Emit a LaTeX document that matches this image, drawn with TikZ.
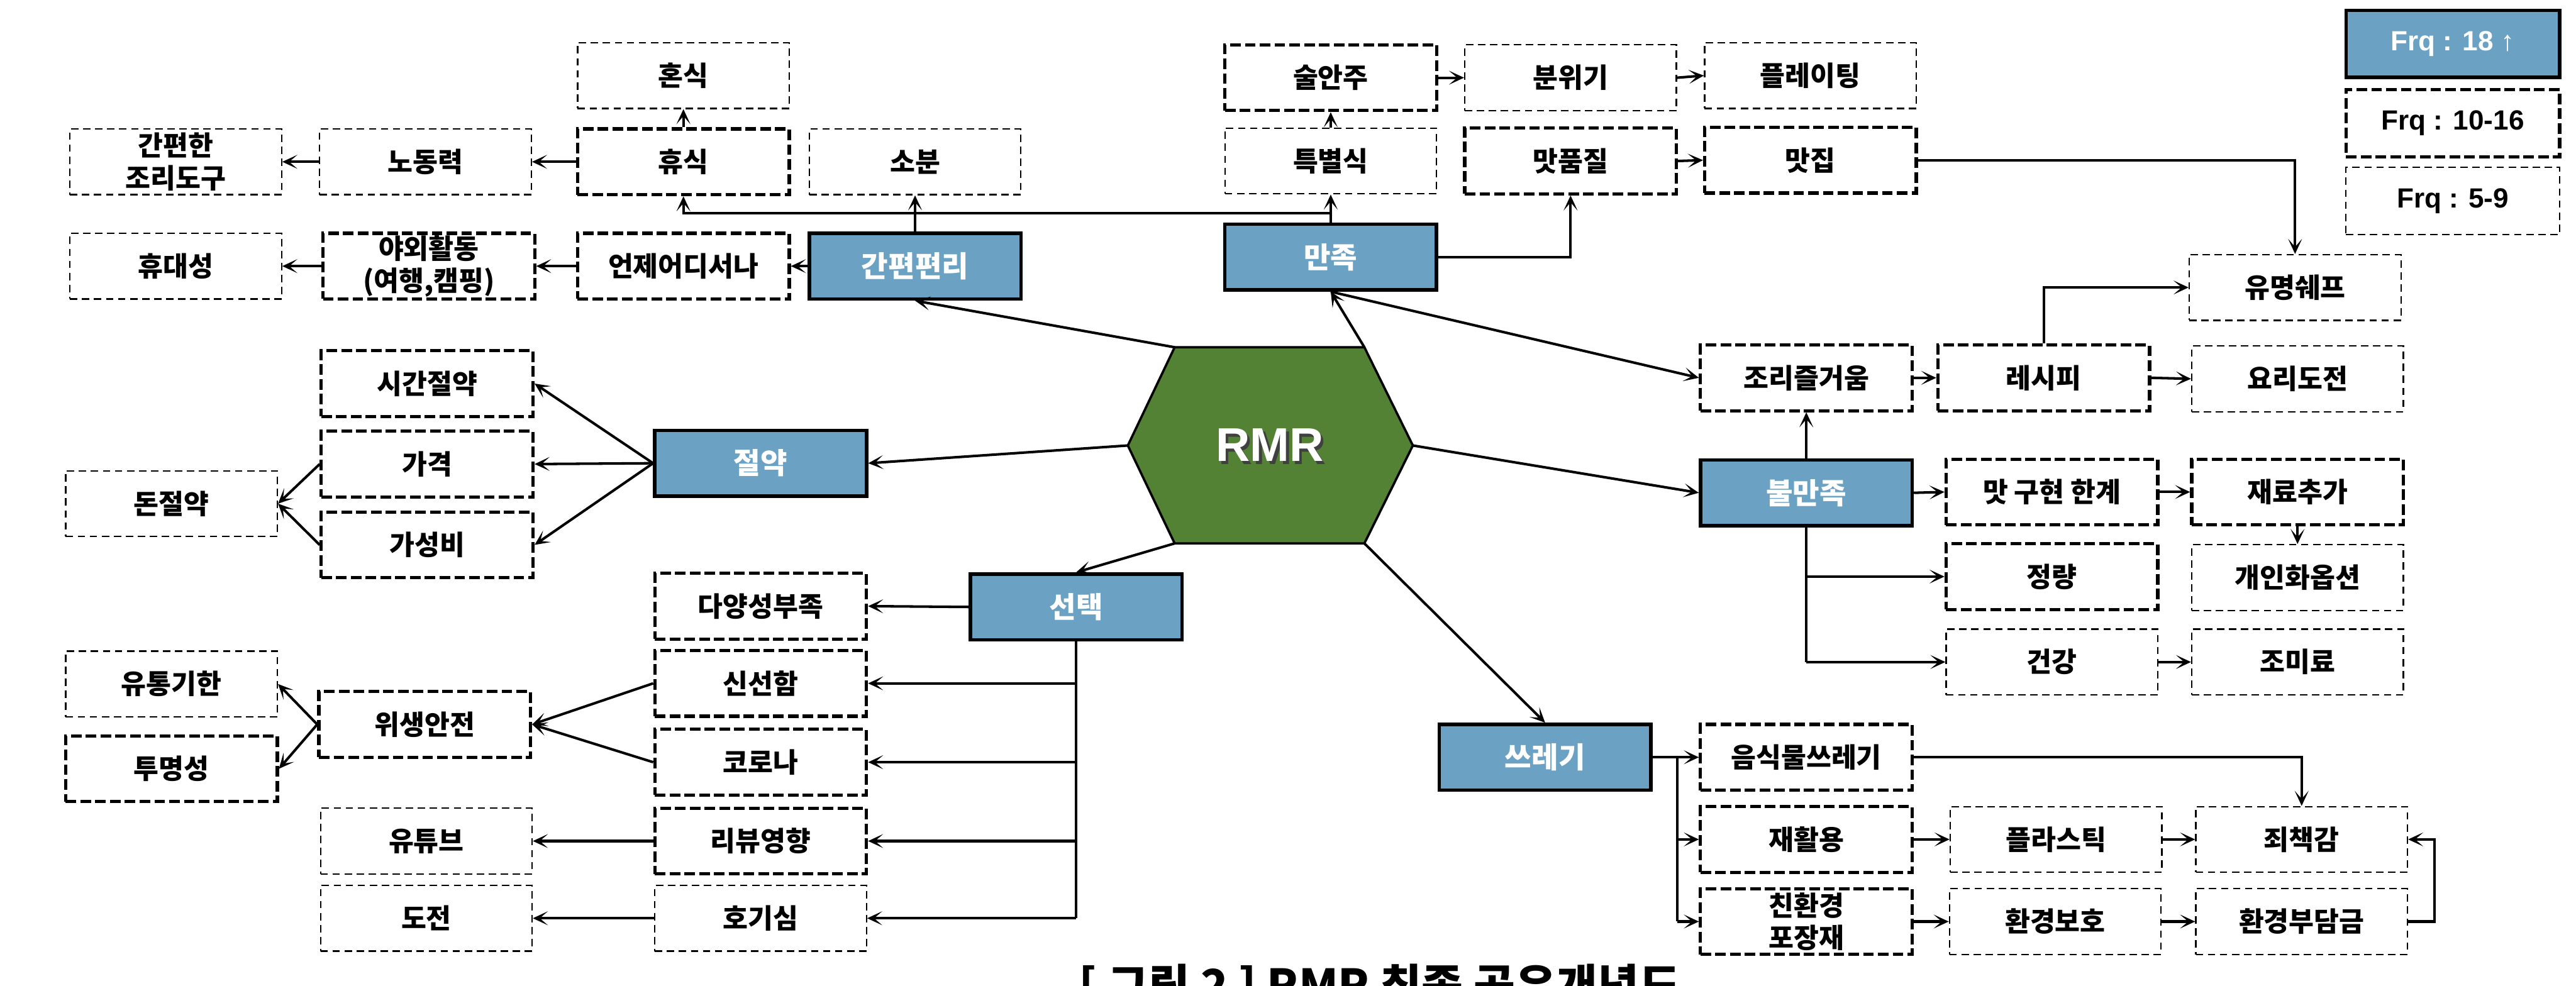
\documentclass[tikz,border=0pt]{standalone}
\usepackage{fontspec}
\usetikzlibrary{arrows.meta}
\newfontfamily\kr{Noto Sans CJK KR}
\newfontfamily\lat{Liberation Sans}
\definecolor{boxblue}{RGB}{107,162,196}
\definecolor{hexgreen}{RGB}{84,130,53}
\tikzset{
  boxbase/.style={rectangle, minimum width=3.22cm, minimum height=1cm, inner sep=0pt, align=center, font=\kr\bfseries\fontsize{11.8}{14}\selectfont},
  bluebox/.style={boxbase, draw=black, line width=1.5pt, fill=boxblue, text=white, font=\kr\bfseries\fontsize{12.6}{15}\selectfont},
  midbox/.style={boxbase, draw=black, line width=1.4pt, dash pattern=on 4.6pt off 1.8pt},
  lowbox/.style={boxbase, draw=black, line width=0.6pt, dash pattern=on 3.2pt off 2pt},
  conn/.style={draw=black, line width=1.1pt, -{Stealth[length=6.5pt,width=6pt,inset=3.5pt]}},
  wire/.style={draw=black, line width=1.1pt},
  legfont/.style={font=\lat\bfseries\fontsize{12}{14}\selectfont, minimum width=3.25cm, minimum height=1.02cm},
}
\begin{document}
\begin{tikzpicture}[x=0.025cm, y=-0.025cm]
\fill[white] (0,0) rectangle (1568,600);
\useasboundingbox (0,0) rectangle (1568,600);

% legend
\node[bluebox, legfont] (lgA) at (1493,26.75) {Frq : 18 ↑};
\node[midbox, legfont] (lgB) at (1493,75) {Frq : 10-16};
\node[lowbox, legfont] (lgC) at (1493,122.3) {Frq : 5-9};

% top left group
\node[lowbox] (honsik) at (416,46) {혼식};
\node[lowbox] (tool) at (107,98.5) {간편한\\조리도구};
\node[lowbox] (labor) at (259,98.5) {노동력};
\node[midbox] (rest) at (416,98.5) {휴식};
\node[lowbox] (sobun) at (557,98.5) {소분};
\node[lowbox] (porta) at (107,162) {휴대성};
\node[midbox] (outdoor) at (261,162) {야외활동\\(여행,캠핑)};
\node[midbox] (anywhere) at (416,162) {언제어디서나};
\node[bluebox] (conv) at (557,162) {간편편리};

% top middle group
\node[midbox] (sul) at (810,47.3) {술안주};
\node[lowbox] (mood) at (956,47.3) {분위기};
\node[lowbox] (plate) at (1102,46) {플레이팅};
\node[lowbox] (special) at (810,98) {특별식};
\node[midbox] (taste) at (956,98) {맛품질};
\node[midbox] (matjip) at (1102,97.5) {맛집};
\node[bluebox] (satis) at (810,156.5) {만족};
\node[lowbox] (chef) at (1397,175) {유명쉐프};

% middle left
\node[midbox] (time) at (260,233.5) {시간절약};
\node[midbox] (price) at (260,282.5) {가격};
\node[midbox] (value) at (260,331.7) {가성비};
\node[lowbox] (money) at (104.4,306.6) {돈절약};
\node[bluebox] (save) at (463,282) {절약};
\node[midbox] (variety) at (463,369) {다양성부족};
\node[bluebox] (choice) at (655,369.5) {선택};

% lower left
\node[lowbox] (expiry) at (104.4,416.4) {유통기한};
\node[midbox] (transp) at (104.4,468) {투명성};
\node[midbox] (hygiene) at (258.5,441) {위생안전};
\node[midbox] (fresh) at (463,416) {신선함};
\node[midbox] (corona) at (463,464) {코로나};
\node[lowbox] (youtube) at (259.5,512) {유튜브};
\node[midbox] (review) at (463,512) {리뷰영향};
\node[lowbox] (challenge) at (259.5,559) {도전};
\node[lowbox] (curious) at (463,559) {호기심};

% right
\node[midbox] (fun) at (1099.5,230) {조리즐거움};
\node[midbox] (recipe) at (1244,230) {레시피};
\node[lowbox] (cookch) at (1398.5,230.6) {요리도전};
\node[bluebox] (unsat) at (1099.5,300) {불만족};
\node[midbox] (limit) at (1249,299.5) {맛 구현 한계};
\node[midbox] (ingr) at (1398.5,299.5) {재료추가};
\node[midbox] (portion) at (1249,351) {정량};
\node[lowbox] (custom) at (1398.5,351.6) {개인화옵션};
\node[lowbox] (health) at (1249,403) {건강};
\node[lowbox] (msg) at (1398.5,403) {조미료};

% bottom right
\node[bluebox] (trash) at (940.5,461) {쓰레기};
\node[midbox] (food) at (1099.5,461) {음식물쓰레기};
\node[midbox] (recyc) at (1099.5,511) {재활용};
\node[midbox] (eco) at (1099.5,561) {친환경\\포장재};
\node[lowbox] (plastic) at (1251.5,511) {플라스틱};
\node[lowbox] (envp) at (1251,561) {환경보호};
\node[lowbox] (guilt) at (1401,511) {죄책감};
\node[lowbox] (envc) at (1401,561) {환경부담금};

% hexagon
\coordinate (hTL) at (715,211.4);
\coordinate (hTR) at (830.5,211.4);
\coordinate (hR) at (860,271.2);
\coordinate (hBR) at (830.5,330.8);
\coordinate (hBL) at (715,330.8);
\coordinate (hL) at (686.5,271.2);
\filldraw[fill=hexgreen, draw=black, line width=1pt, line join=miter] (hTL) -- (hTR) -- (hR) -- (hBR) -- (hBL) -- (hL) -- cycle;
\node[text=black!75, font=\lat\bfseries\fontsize{20.5}{24}\selectfont] (rmrshadow) at (774.6,272.6) {RMR};
\node[text=white, font=\lat\bfseries\fontsize{20.5}{24}\selectfont] (rmr) at (773,271) {RMR};

% connectors: top left
\draw[conn] (rest.north) -- (honsik.south);
\draw[conn] (rest.west) -- (labor.east);
\draw[conn] (labor.west) -- (tool.east);
\draw[conn] (conv.west) -- (anywhere.east);
\draw[conn] (anywhere.west) -- (outdoor.east);
\draw[conn] (outdoor.west) -- (porta.east);
\draw[conn] (conv.north) -- (sobun.south);
\coordinate (bus1) at (810,129.6);
\draw[conn] (satis.north) -- (special.south);
\draw[conn] (bus1) -| (rest.south);

% connectors: top middle
\draw[conn] (special.north) -- (sul.south);
\draw[conn] (sul.east) -- (mood.west);
\draw[conn] (mood.east) -- (plate.west);
\draw[conn] (taste.east) -- (matjip.west);
\draw[conn] (satis.east) -| (taste.south);
\draw[conn] (matjip.east) -| (chef.north);
\draw[conn] (recipe.north) |- (chef.west);

% connectors: right
\draw[conn] (fun.east) -- (recipe.west);
\draw[conn] (recipe.east) -- (cookch.west);
\draw[conn] (unsat.north) -- (fun.south);
\draw[conn] (unsat.east) -- (limit.west);
\draw[conn] (limit.east) -- (ingr.west);
\draw[conn] (ingr.south) -- (custom.north);
\draw[wire] (unsat.south) -- (unsat.south |- health.west);
\draw[conn] (unsat.south |- portion.west) -- (portion.west);
\draw[conn] (unsat.south |- health.west) -- (health.west);
\draw[conn] (health.east) -- (msg.west);

% connectors: hexagon
\draw[conn] (hTL) -- (conv.south);
\draw[conn] (hTR) -- (satis.south);
\draw[conn] (satis.south) -- (fun.west);
\draw[conn] (hL) -- (save.east);
\draw[conn] (hR) -- (unsat.west);
\draw[conn] (hBL) -- (choice.north);
\draw[conn] (hBR) -- (trash.north);

% connectors: save
\draw[conn] (save.west) -- (time.east);
\draw[conn] (save.west) -- (price.east);
\draw[conn] (save.west) -- (value.east);
\draw[conn] (price.west) -- (money.east);
\draw[conn] (value.west) -- (money.east);

% connectors: choice
\draw[conn] (choice.west) -- (variety.east);
\draw[wire] (choice.south) -- (choice.south |- curious.east);
\draw[conn] (choice.south |- fresh.east) -- (fresh.east);
\draw[conn] (choice.south |- corona.east) -- (corona.east);
\draw[conn] (choice.south |- review.east) -- (review.east);
\draw[conn] (choice.south |- curious.east) -- (curious.east);
\draw[conn] (fresh.west) -- (hygiene.east);
\draw[conn] (corona.west) -- (hygiene.east);
\draw[conn] (hygiene.west) -- (expiry.east);
\draw[conn] (hygiene.west) -- (transp.east);
\draw[conn] (review.west) -- (youtube.east);
\draw[conn] (curious.west) -- (challenge.east);

% connectors: trash
\coordinate (tb) at (1021,461);
\draw[wire] (trash.east) -- (tb);
\draw[conn] (tb) -- (food.west);
\draw[wire] (tb) -- (tb |- eco.west);
\draw[conn] (tb |- recyc.west) -- (recyc.west);
\draw[conn] (tb |- eco.west) -- (eco.west);
\draw[conn] (recyc.east) -- (plastic.west);
\draw[conn] (plastic.east) -- (guilt.west);
\draw[conn] (eco.east) -- (envp.west);
\draw[conn] (envp.east) -- (envc.west);
\draw[conn] (food.east) -| (guilt.north);
\coordinate (er) at (1482,561);
\draw[conn] (envc.east) -- (er) |- (guilt.east);

% caption (cut by the page edge)
\node[anchor=base, font=\kr\bfseries\fontsize{19.5}{22}\selectfont] (cap) at (840,610) {[ 그림 2 ] RMR 최종 공유개념도};
\end{tikzpicture}
\end{document}
